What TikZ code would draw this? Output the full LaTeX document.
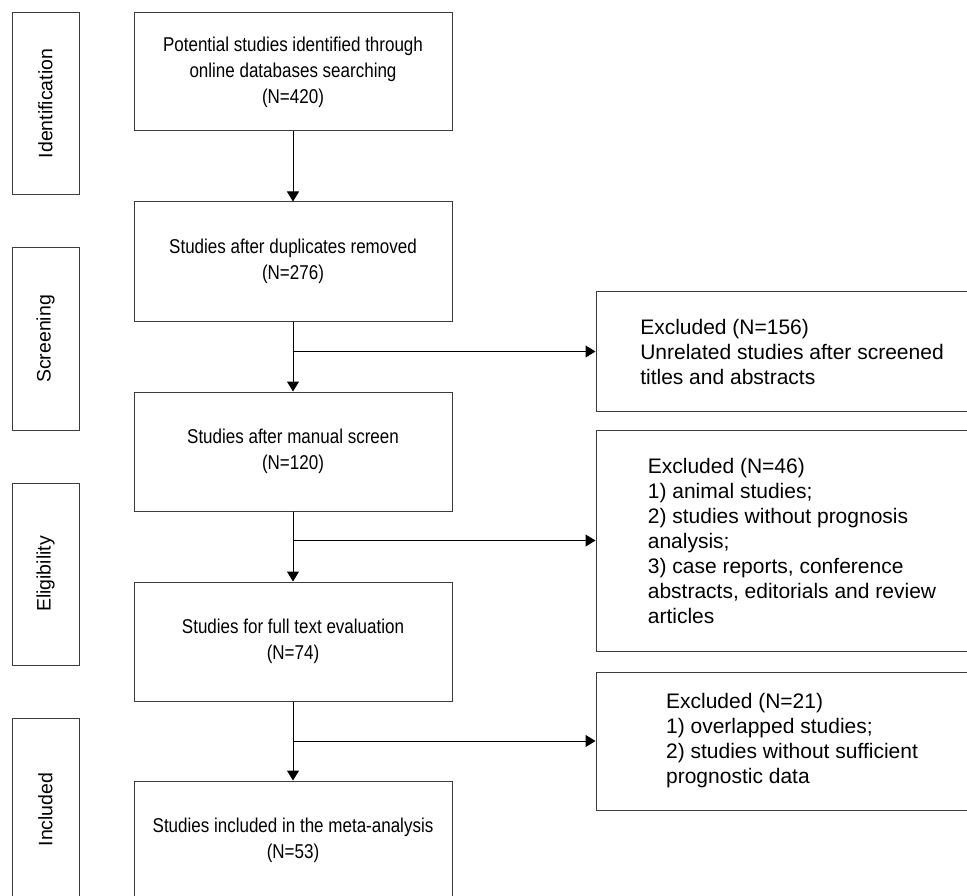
\documentclass[tikz,border=0pt]{standalone}
\usepackage{fontspec}
\setmainfont{Liberation Sans}
\newfontfamily\stagefont[FakeStretch=0.85]{Liberation Sans}
\usetikzlibrary{positioning,arrows.meta}
\definecolor{boxline}{RGB}{60,60,60}

\begin{document}
\begin{tikzpicture}[x=1pt, y=-1pt,
		% Box styles
		phase/.style={rectangle, draw=boxline, line width=1pt, rotate=90,
			minimum width=182pt, minimum height=67pt, inner sep=0pt,
			font=\fontsize{19.5}{25.5}\selectfont},
		stage/.style={rectangle, draw=boxline, line width=1pt, minimum width=318pt,
			minimum height=119pt, align=center, font=\stagefont\fontsize{20}{26}\selectfont},
		excluded/.style={rectangle, draw=boxline, line width=1pt, minimum width=392pt,
			align=left, font=\fontsize{21}{25}\selectfont},
		% Arrow styles
		arrow/.style={-{Triangle[length=10pt, width=12pt]}, line width=1pt}
		]
		
		\clip (0,0) rectangle (967,896);
		\fill[white] (0,0) rectangle (967,896);
		
		% Phase labels
		\node[phase] (ident) at (45.5,103.5) {Identification};
		\node[phase] (screen) at (45.5,339) {Screening};
		\node[phase] (elig) at (45.5,574) {Eligibility};
		\node[phase] (incl) at (45.5,809.5) {Included};
		
		% Main stages
		\node[stage, minimum height=118pt] (identified) at (293,72)
			{Potential studies identified through\\online databases searching\\(N=420)};
		\node[stage] (dedup) at (293,261.5) {Studies after duplicates removed\\(N=276)};
		\node[stage] (manual) at (293,451.5) {Studies after manual screen\\(N=120)};
		\node[stage] (fulltext) at (293,641.5) {Studies for full text evaluation\\(N=74)};
		\node[stage] (included) at (293,840.5) {Studies included in the meta-analysis\\(N=53)};
		
		% Excluded records
		\node[excluded, minimum height=119pt] (excl_titles) at (792,351.5)
			{Excluded (N=156)\\Unrelated studies after screened\\titles and abstracts};
		\node[excluded, minimum height=221pt] (excl_manual) at (792,540.5)
			{Excluded (N=46)\\1) animal studies;\\2) studies without prognosis\\analysis;\\3) case reports, conference\\abstracts, editorials and review\\articles};
		\node[excluded, minimum height=138pt] (excl_full) at (792,741)
			{Excluded (N=21)\\1) overlapped studies;\\2) studies without sufficient\\prognostic data};
		
		% Arrows - main path
		\draw[arrow] (identified) -- (dedup);
		\draw[arrow] (dedup) -- (manual);
		\draw[arrow] (manual) -- (fulltext);
		\draw[arrow] (fulltext) -- (included);
		
		% Arrows - exclusions
		\draw[arrow] (dedup.south |- excl_titles.west) -- (excl_titles.west);
		\draw[arrow] (manual.south |- excl_manual.west) -- (excl_manual.west);
		\draw[arrow] (fulltext.south |- excl_full.west) -- (excl_full.west);
		
	\end{tikzpicture}
\end{document}
